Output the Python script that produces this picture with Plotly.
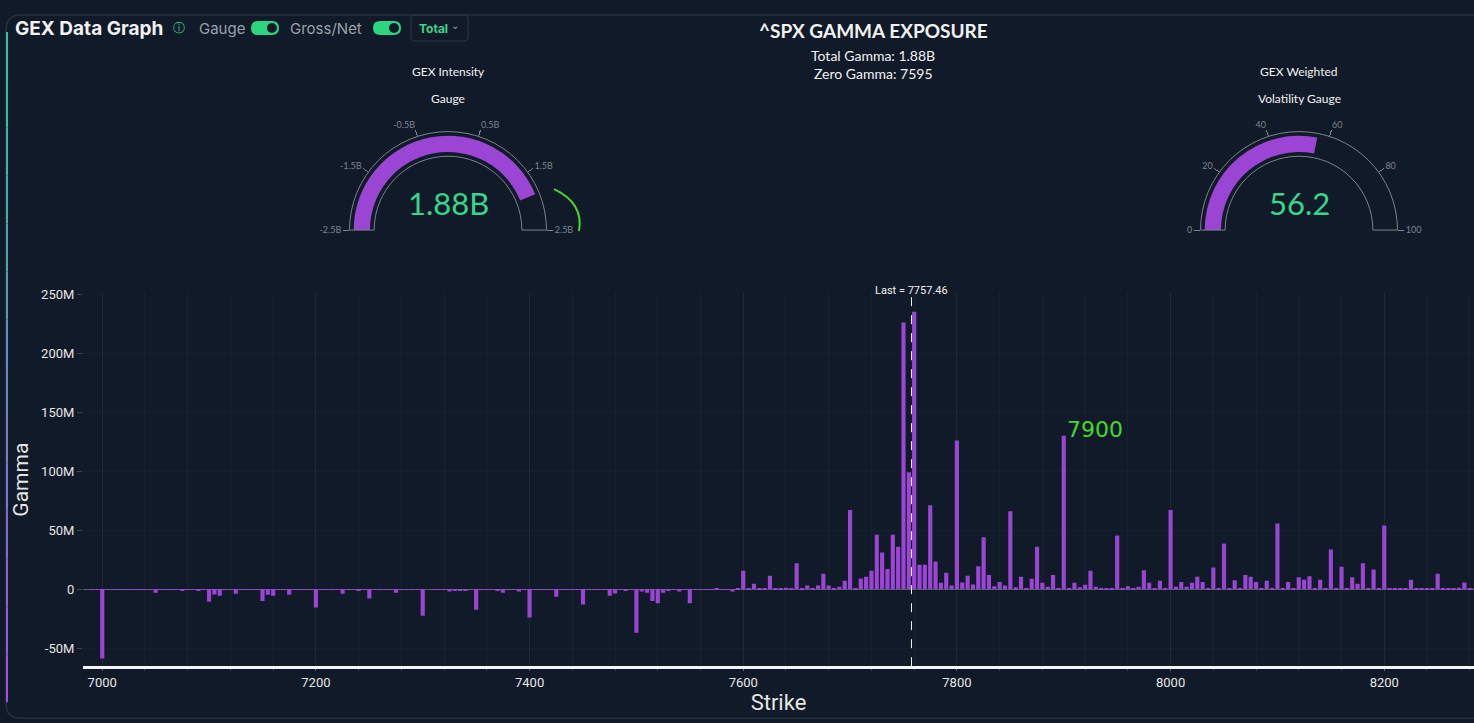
import plotly.graph_objects as go

W, H = 1474, 723

# ---------------- data ----------------
strikes = list(range(6990, 8290, 5))
gamma_m = [
    -0.6, -0.3, -58.7, -0.3, -0.5, -0.3, -0.4, -0.3, -0.5, -0.4,   # 6990-7035
    -0.3, -0.5, -3.0, -0.3, -0.5, -0.8, -0.3, -1.0, -0.3, -0.5,    # 7040-7085
    -1.0, -0.3, -10.7, -4.5, -5.6, -0.5, -0.4, -4.0, -0.5, -0.3,   # 7090-7135
    -0.5, -0.3, -10.0, -4.8, -5.6, -0.4, -0.3, -4.8, -0.5, -0.3,   # 7140-7185
    -0.4, -0.3, -15.5, -0.3, -0.5, -0.4, -0.3, -4.0, -0.5, -0.3,   # 7190-7235
    -1.0, -0.3, -8.0, -0.4, -0.3, -0.5, -0.4, -3.0, -0.3, -0.5,    # 7240-7285
    -0.3, -0.4, -22.5, 0.0, -0.3, -0.5, -0.4, -2.0, -1.2, -1.0,    # 7290-7335
    -1.0, -0.4, -17.5, -0.3, -0.5, -0.4, -1.0, -3.0, -0.6, -0.4,   # 7340-7385
    -2.0, -0.3, -24.0, -0.4, -0.3, -0.5, -0.4, -6.5, -0.5, -0.6,   # 7390-7435
    -0.4, -0.5, -13.0, -0.4, -0.6, -0.3, -0.5, -5.6, -3.7, -0.4,   # 7440-7485
    -1.0, -0.5, -37.0, -2.0, -3.0, -10.0, -12.0, -3.0, -1.0, -0.4, # 7490-7535
    -2.0, -0.3, -12.0, -0.4, -0.5, -0.3, -0.4, 0.3, -0.5, -0.4,    # 7540-7585
    -2.0, 0.5, 15.5, 0.5, 4.5, 1.0, 0.5, 11.3, 1.0, 0.8,           # 7590-7635
    1.2, 0.5, 22.0, 0.5, 3.0, 0.8, 3.0, 13.0, 3.0, 0.8,            # 7640-7685
    2.0, 7.0, 67.0, 1.0, 9.0, 10.5, 15.5, 46.0, 31.0, 17.0,        # 7690-7735
    46.0, 36.0, 226.0, 99.0, 235.0, 20.6, 20.6, 71.0, 23.4, 5.4,   # 7740-7785
    13.8, 3.0, 126.0, 5.5, 11.3, 4.0, 19.3, 44.0, 12.0, 2.5,       # 7790-7835
    6.0, 3.0, 66.0, 1.5, 10.5, 1.0, 8.7, 36.0, 5.4, 2.0,           # 7840-7885
    12.0, 1.0, 130.0, 0.8, 5.4, 1.5, 3.7, 15.5, 2.0, 0.5,          # 7890-7935
    0.8, 0.6, 45.5, 0.8, 2.5, 0.5, 2.0, 16.0, 5.4, 0.6,            # 7940-7985
    7.0, 0.5, 67.0, 2.0, 6.0, 2.0, 5.4, 10.5, 6.0, 0.6,            # 7990-8035
    18.4, 0.6, 38.7, 0.5, 7.6, 0.5, 12.0, 10.5, 6.0, 0.5,          # 8040-8085
    7.0, 0.6, 55.6, 0.5, 6.0, 0.6, 10.0, 8.0, 11.0, 0.6,           # 8090-8135
    8.0, 0.5, 33.6, 0.5, 19.0, 0.6, 10.0, 4.5, 22.0, 0.5,          # 8140-8185
    16.7, 0.6, 54.0, 0.5, 0.8, 0.3, 0.5, 8.0, 0.5, 0.3,            # 8190-8235
    0.6, 0.5, 13.0, 0.4, 0.6, 0.3, 1.2, 5.6, 0.8, 0.3,             # 8240-8285
]

y_tickvals = [-50, 0, 50, 100, 150, 200, 250]
y_ticktext = ["-50M", "0", "50M", "100M", "150M", "200M", "250M"]
x_tickvals = [7000, 7200, 7400, 7600, 7800, 8000, 8200]

last_price = 7757.46
total_gamma_b = 1.88
zero_gamma = 7595
vol_value = 56.2
gex_range = [-2.5, 2.5]
gex_ticks = [-2.5, -1.5, -0.5, 0.5, 1.5, 2.5]
vol_range = [0, 100]
vol_ticks = [0, 20, 40, 60, 80, 100]
note_strike = 7900

# ---------------- styles ----------------
BG = "#111a28"
BAR = "#9a45d3"
GREEN = "#38d68a"
LIME = "#45d92e"
WHITE = "#f2f2f2"
GRAY_TXT = "#9aa1ab"
GAUGE_GRAY = "#7d838c"


def px(x):
    return x / W


def py(y):
    # slight vertical correction so that the rendered positions land on target pixels
    yc = y - 6 + 6 * y / 700
    return 1 - yc / H


fig = go.Figure()

fig.add_trace(go.Bar(
    x=strikes, y=gamma_m,
    marker=dict(color=BAR, line=dict(width=0)),
    showlegend=False,
))


def gauge(value, rng, ticks, ticktext, cx):
    r = 98.5
    return go.Indicator(
        mode="gauge",
        value=value,
        domain=dict(x=[px(cx - r), px(cx + r)], y=[py(230), py(230 - r)]),
        gauge=dict(
            shape="angular",
            axis=dict(range=rng, tickvals=ticks, ticktext=ticktext,
                      tickfont=dict(size=9, color=GAUGE_GRAY, family="Lato"),
                      ticks="outside", ticklen=6, tickwidth=1,
                      tickcolor=GAUGE_GRAY),
            bar=dict(color=BAR, thickness=0.66),
            bgcolor="rgba(0,0,0,0)",
            borderwidth=1, bordercolor=GAUGE_GRAY,
        ),
    )


fig.add_trace(gauge(total_gamma_b, gex_range, gex_ticks,
                    [f"{v:g}B" for v in gex_ticks], 448))
fig.add_trace(gauge(vol_value, vol_range, vol_ticks,
                    [f"{v:g}" for v in vol_ticks], 1299))

annotations = []


def ann(text, x, y, size, color, family="Lato", xanchor="center", **kw):
    annotations.append(dict(text=text, x=px(x), y=py(y), xref="paper", yref="paper",
                            xanchor=xanchor, yanchor="middle", showarrow=False,
                            font=dict(size=size, color=color, family=family), **kw))


# header
ann("<b>GEX Data Graph</b>", 13, 28, 19, WHITE, family="Inter", xanchor="left")
ann("ⓘ", 179, 28, 12, GREEN, family="DejaVu Sans")
ann("Gauge", 197, 28, 15, GRAY_TXT, family="Inter", xanchor="left")
ann("Gross/Net", 288, 28, 15, GRAY_TXT, family="Inter", xanchor="left")
ann("<b>Total</b>", 417, 28, 12, GREEN, family="Inter", xanchor="left")
ann("⌄", 455, 25, 10, GRAY_TXT, family="DejaVu Sans")

# center titles
ann("<b>^SPX GAMMA EXPOSURE</b>", 873, 30, 19, WHITE)
ann(f"Total Gamma: {total_gamma_b:.2f}B", 873, 55, 14, WHITE)
ann(f"Zero Gamma: {zero_gamma}", 873, 73, 14, WHITE)

# gauge titles and numbers
ann("GEX Intensity", 448, 71, 12, WHITE)
ann("Gauge", 448, 98, 12, WHITE)
ann("GEX Weighted", 1299, 71, 12, WHITE)
ann("Volatility Gauge", 1299, 98, 12, WHITE)
ann(f"{total_gamma_b:.2f}B", 448, 203, 31, GREEN)
ann(f"{vol_value:.1f}", 1299, 203, 31, GREEN)

# last price label
annotations.append(dict(text=f"Last = {last_price}", x=last_price, y=1, xref="x",
                        yref="y domain", yanchor="bottom", yshift=-6, showarrow=False,
                        font=dict(size=11, color=WHITE, family="Roboto")))
# hand note
annotations.append(dict(text="7900", x=note_strike + 29, y=135, xref="x", yref="y",
                        showarrow=False,
                        font=dict(size=22, color=LIME, family="DejaVu Sans")))

shapes = []


def rr(x0, y0, x1, y1, r):
    return (f"M {px(x0 + r)} {py(y0)} L {px(x1 - r)} {py(y0)} "
            f"Q {px(x1)} {py(y0)} {px(x1)} {py(y0 + r)} L {px(x1)} {py(y1 - r)} "
            f"Q {px(x1)} {py(y1)} {px(x1 - r)} {py(y1)} L {px(x0 + r)} {py(y1)} "
            f"Q {px(x0)} {py(y1)} {px(x0)} {py(y1 - r)} L {px(x0)} {py(y0 + r)} "
            f"Q {px(x0)} {py(y0)} {px(x0 + r)} {py(y0)} Z")


# frame
shapes.append(dict(type="path", xref="paper", yref="paper",
                   path=(f"M {px(1480)} {py(15)} L {px(21)} {py(15)} Q {px(6)} {py(15)} {px(6)} {py(30)} "
                         f"L {px(6)} {py(703)} Q {px(6)} {py(718)} {px(21)} {py(718)} L {px(1480)} {py(718)}"),
                   line=dict(color="#263142", width=1.5)))
# gradient left accent
n = 14
c0, c1 = (46, 196, 160), (160, 80, 220)
y_top, y_bot = 32, 702
for i in range(n):
    t = i / (n - 1)
    col = "rgb(%d,%d,%d)" % tuple(int(a + (b - a) * t) for a, b in zip(c0, c1))
    ya = y_top + (y_bot - y_top) * i / n
    yb = y_top + (y_bot - y_top) * (i + 1) / n
    shapes.append(dict(type="line", xref="paper", yref="paper", x0=px(7), x1=px(7),
                       y0=py(ya), y1=py(yb), line=dict(color=col, width=2)))

# toggles
for x0 in (251, 373):
    shapes.append(dict(type="path", xref="paper", yref="paper", path=rr(x0, 21, x0 + 28, 35, 7),
                       fillcolor="#2fd482", line=dict(width=0)))
    shapes.append(dict(type="circle", xref="paper", yref="paper",
                       x0=px(x0 + 16), x1=px(x0 + 26), y0=py(33), y1=py(23),
                       fillcolor=BG, line=dict(width=0)))
# dropdown box
shapes.append(dict(type="path", xref="paper", yref="paper", path=rr(411, 15, 468, 41, 4),
                   line=dict(color="#2c3848", width=1)))

# last price line
shapes.append(dict(type="line", xref="x", yref="y domain", x0=last_price, x1=last_price,
                   y0=0, y1=0.99, line=dict(color=WHITE, width=1, dash="dash")))
# hand-drawn curve
shapes.append(dict(type="path", xref="paper", yref="paper",
                   path=f"M {px(554)} {py(189)} Q {px(584)} {py(203)} {px(579)} {py(231)}",
                   line=dict(color=LIME, width=2)))

fig.update_layout(
    width=W, height=H,
    margin=dict(l=0, r=0, t=0, b=0),
    paper_bgcolor=BG, plot_bgcolor=BG,
    bargap=0.22,
    showlegend=False,
    annotations=annotations,
    shapes=shapes,
    xaxis=dict(domain=[px(83), 1], range=[6982, 8284], tickvals=x_tickvals,
               tickfont=dict(size=13, color="#e6e6e6", family="Roboto"),
               showline=True, linecolor="#f5f5f5", linewidth=2.5,
               showgrid=True, gridcolor="rgba(255,255,255,0.035)",
               minor=dict(dtick=40, tick0=7000, showgrid=True,
                          gridcolor="rgba(255,255,255,0.03)",
                          ticks="outside", ticklen=2, tickcolor="rgba(255,255,255,0.15)"),
               ticks="outside", ticklen=2, tickcolor="rgba(255,255,255,0.25)",
               zeroline=False,
               title=dict(text="Strike", font=dict(size=22, color="#e6e6e6", family="Roboto"),
                          standoff=5)),
    yaxis=dict(domain=[py(666), py(293)], range=[-65.3, 250.8],
               tickvals=y_tickvals, ticktext=y_ticktext,
               tickfont=dict(size=13, color="#e6e6e6", family="Roboto"),
               ticks="outside", ticklen=5, tickcolor="rgba(255,255,255,0.2)",
               showgrid=True, gridcolor="rgba(255,255,255,0.02)",
               zeroline=True, zerolinecolor="rgba(150,155,165,0.55)", zerolinewidth=1,
               title=dict(text="Gamma", font=dict(size=21, color="#e6e6e6", family="Roboto"),
                          standoff=6)),
)

fig.write_html("out.html", config={"displayModeBar": False},
               post_script="document.body.style.margin='0px';document.body.style.background='#111a28';")
